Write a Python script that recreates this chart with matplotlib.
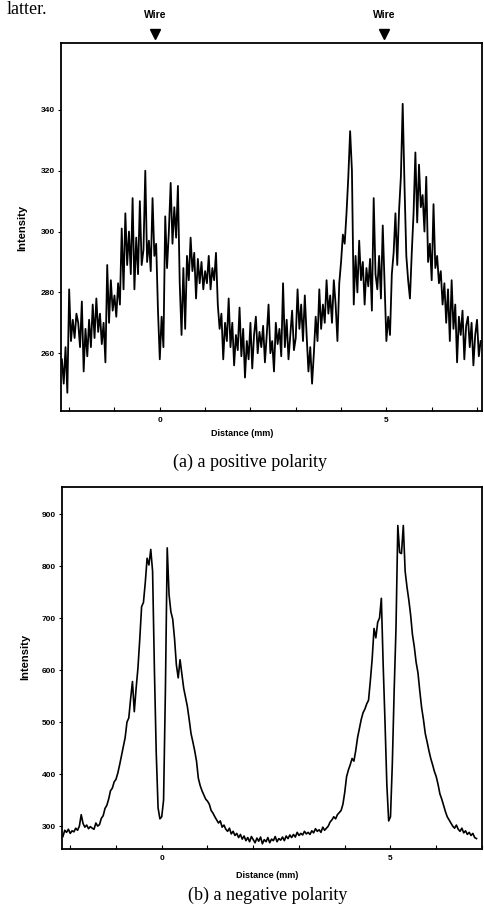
import numpy as np
import matplotlib
matplotlib.use("Agg")
import matplotlib.pyplot as plt
from matplotlib.transforms import blended_transform_factory

# ---------------- data ----------------
# (a) positive polarity: sampled every 0.04 mm from -2.16 mm
start_a = -2.16
step_a = 0.04
intensity_a = [
    258, 250, 262, 247, 281, 264, 271, 265, 273, 270,
    262, 277, 254, 268, 259, 271, 262, 276, 265, 278,
    267, 273, 263, 270, 257, 289, 270, 284, 274, 279,
    272, 283, 276, 301, 281, 306, 289, 300, 286, 311,
    281, 298, 286, 310, 289, 294, 320, 290, 297, 287,
    311, 292, 296, 274, 258, 272, 262, 305, 288, 300,
    316, 296, 308, 298, 315, 283, 266, 288, 268, 292,
    284, 298, 287, 293, 278, 291, 283, 290, 281, 287,
    283, 292, 281, 288, 284, 293, 276, 268, 273, 258,
    270, 264, 278, 262, 270, 256, 266, 261, 275, 259,
    268, 252, 264, 258, 270, 255, 266, 272, 260, 267,
    262, 269, 257, 266, 276, 260, 264, 254, 270, 263,
    268, 259, 283, 262, 271, 258, 266, 274, 261, 265,
    281, 268, 276, 264, 279, 266, 254, 262, 250, 260,
    272, 264, 281, 268, 276, 270, 284, 273, 279, 270,
    284, 276, 264, 283, 290, 299, 296, 306, 318, 333,
    320, 276, 292, 280, 297, 284, 290, 276, 288, 282,
    291, 274, 311, 286, 281, 292, 278, 302, 283, 264,
    272, 266, 286, 293, 306, 289, 307, 318, 342, 315,
    292, 284, 278, 293, 306, 326, 303, 322, 308, 312,
    300, 318, 290, 296, 284, 309, 288, 292, 283, 287,
    276, 283, 270, 281, 264, 284, 268, 276, 257, 272,
    266, 274, 258, 269, 272, 262, 270, 256, 266, 271,
    259, 264,
]

# (b) negative polarity: sampled every 0.04 mm from -2.16 mm
start_b = -2.16
step_b = 0.04
intensity_b = [
    280, 292, 288, 294, 286, 291, 289, 296, 292, 300,
    322, 305, 298, 302, 295, 299, 296, 294, 306, 300,
    303, 315, 320, 334, 340, 352, 368, 373, 385, 390,
    402, 418, 435, 452, 470, 500, 508, 545, 578, 520,
    565, 604, 660, 722, 730, 768, 815, 802, 832, 790,
    600, 440, 335, 314, 318, 350, 560, 835, 745, 712,
    698, 660, 610, 585, 620, 592, 565, 548, 530, 505,
    478, 462, 445, 425, 392, 378, 368, 360, 352, 348,
    342, 330, 325, 318, 312, 306, 310, 298, 302, 294,
    290, 296, 285, 290, 282, 286, 278, 284, 275, 281,
    272, 278, 270, 280, 274, 268, 277, 271, 279, 266,
    274, 270, 278, 268, 275, 272, 280, 270, 276, 273,
    279, 272, 281, 276, 283, 278, 284, 279, 288, 282,
    286, 283, 290, 285, 288, 284, 291, 287, 295, 290,
    293, 288, 298, 292, 296, 300, 308, 312, 318, 314,
    322, 326, 330, 342, 365, 395, 408, 418, 430, 425,
    445, 470, 488, 505, 518, 525, 535, 542, 580, 622,
    680, 662, 692, 700, 738, 610, 500, 380, 310, 318,
    420, 560, 680, 878, 826, 824, 878, 790, 760, 735,
    706, 668, 645, 615, 595, 560, 528, 505, 478, 462,
    445, 430, 418, 405, 395, 380, 362, 352, 340, 328,
    318, 312, 306, 300, 296, 302, 294, 290, 296, 287,
    291, 284, 288, 282, 286, 278, 276,
]

yticks_a = [260, 280, 300, 320, 340]
yticks_b = [300, 400, 500, 600, 700, 800, 900]
xticks_major = [0, 5]
xticks_minor = [-2, -1, 1, 2, 3, 4, 6, 7]
wire_positions = [-0.1, 4.95]
wire_labels = ["Wire", "Wire"]

dist_a = start_a + step_a * np.arange(len(intensity_a))
dist_b = start_b + step_b * np.arange(len(intensity_b))

# ---------------- figure ----------------
W, H = 484, 913
fig = plt.figure(figsize=(W / 100, H / 100), dpi=100)
fig.patch.set_facecolor("white")

sans = "Liberation Sans"
serif = "Liberation Serif"


def style_axes(ax, yticks, xlim, ylim):
    ax.set_xlim(*xlim)
    ax.set_ylim(*ylim)
    for s in ax.spines.values():
        s.set_linewidth(1.3)
        s.set_color("black")
    ax.set_xticks(xticks_major)
    ax.set_xticklabels([str(v) for v in xticks_major], fontsize=6,
                       fontfamily=sans, fontweight="bold")
    ax.set_xticks(xticks_minor, minor=True)
    ax.tick_params(axis="x", which="both", direction="in", length=3,
                   width=0.8, pad=4)
    ax.set_yticks(yticks)
    ax.set_yticklabels([str(v) for v in yticks], fontsize=6,
                       fontfamily=sans, fontweight="bold")
    ax.tick_params(axis="y", which="both", direction="out", length=2.5,
                   width=0.8, pad=2)


def px_rect(l, t, r, b):
    return [l / W, 1 - b / H, (r - l) / W, (b - t) / H]


# top panel
ax1 = fig.add_axes(px_rect(61, 43, 482, 411))
ax1.plot(dist_a, intensity_a, color="black", lw=1.3)
style_axes(ax1, yticks_a, (-2.18, 7.11), (241, 362))

trans = blended_transform_factory(ax1.transData, fig.transFigure)
for xp, lab in zip(wire_positions, wire_labels):
    ax1.plot([xp], [1 - 34 / H], marker="v", color="black", markersize=7,
             transform=trans, clip_on=False)
    fig.text(xp, 1 - 15 / H, lab, transform=trans, ha="center", va="center",
             fontsize=7.5, fontweight="bold", fontfamily=sans)

fig.text(242 / W, 1 - 433 / H, "Distance (mm)", ha="center", va="center",
         fontsize=6.5, fontweight="bold", fontfamily=sans)
fig.text(22 / W, 1 - 228 / H, "Intensity", ha="center", va="center",
         rotation=90, fontsize=8, fontweight="bold", fontfamily=sans)
fig.text(250 / W, 1 - 462 / H, "(a) a positive polarity", ha="center",
         va="center", fontsize=13, fontfamily=serif)
fig.text(7 / W, 1 - 14 / H, "latter.", ha="left", va="baseline",
         fontsize=13, fontfamily=serif)

# bottom panel
ax2 = fig.add_axes(px_rect(62, 487, 482, 849))
ax2.plot(dist_b, intensity_b, color="black", lw=1.2)
style_axes(ax2, yticks_b, (-2.18, 6.9), (256, 952))

fig.text(267 / W, 1 - 875 / H, "Distance (mm)", ha="center", va="center",
         fontsize=6.5, fontweight="bold", fontfamily=sans)
fig.text(25 / W, 1 - 657 / H, "Intensity", ha="center", va="center",
         rotation=90, fontsize=8, fontweight="bold", fontfamily=sans)
fig.text(268 / W, 1 - 895 / H, "(b) a negative polarity", ha="center",
         va="center", fontsize=13, fontfamily=serif)

fig.savefig("out.png", dpi=100, facecolor="white")
